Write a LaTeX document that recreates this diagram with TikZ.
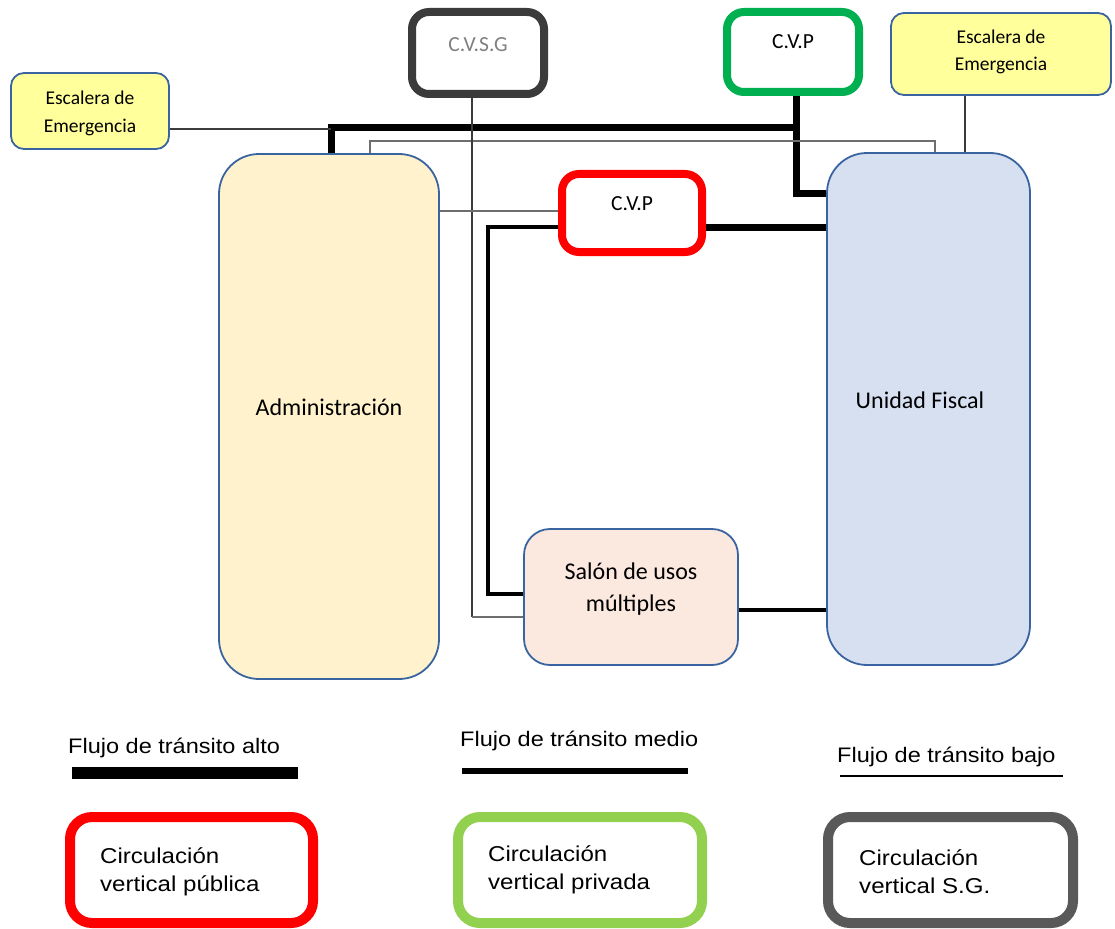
\documentclass[tikz,border=0pt]{standalone}
\usepackage{fontspec}
\setmainfont{Carlito}
\newfontfamily\legendfont{Liberation Sans}
\definecolor{roomblue}{HTML}{3A64A0}
\definecolor{adminfill}{HTML}{FFF2CC}
\definecolor{fiscalfill}{HTML}{D6E0F1}
\definecolor{salonfill}{HTML}{FBE9E0}
\definecolor{stairfill}{HTML}{FFFF9C}
\definecolor{sgdark}{HTML}{3B3B3B}
\definecolor{sgtext}{HTML}{808080}
\definecolor{privgreen}{HTML}{00B050}
\definecolor{pubred}{HTML}{FF0000}
\definecolor{leggreen}{HTML}{92D050}
\definecolor{leggray}{HTML}{595959}
\definecolor{thingray}{HTML}{6E6E6E}
\begin{document}
\begin{tikzpicture}[x=1pt,y=-1pt,
  room/.style={draw=roomblue, line width=1.8pt, rounded corners=40pt, inner sep=0pt},
  stair/.style={draw=roomblue, line width=1.8pt, fill=stairfill, rounded corners=13pt, inner sep=0pt},
  core/.style={line width=8pt, fill=white, rounded corners=17pt, inner sep=0pt},
  legbox/.style={line width=10pt, fill=white, rounded corners=22pt, inner sep=0pt},
  lbl/.style={inner sep=0pt, align=center},
  legtxt/.style={inner sep=0pt, anchor=west, align=left, font=\legendfont\fontsize{21.5}{28}\selectfont},
  legtitle/.style={inner sep=0pt, anchor=west, font=\legendfont\fontsize{21}{25}\selectfont},
  hiflow/.style={line width=7pt},
  midflow/.style={line width=3.5pt},
  loflow/.style={line width=1.2pt}]
\useasboundingbox (0,0) rectangle (1115,928);

% rooms
\node[room, fill=adminfill, minimum width=220, minimum height=525] (admin) at (329,416.5) {};
\node[lbl, font=\fontsize{24}{29}\selectfont] (adminT) at (329,407) {Administración};
\node[room, fill=fiscalfill, minimum width=203, minimum height=512] (fiscal) at (928.5,409) {};
\node[lbl, font=\fontsize{24}{29}\selectfont] (fiscalT) at (920,400) {Unidad Fiscal};
\node[room, fill=salonfill, rounded corners=26pt, minimum width=214, minimum height=136] (salon) at (631,597) {};
\node[lbl, font=\fontsize{24}{32}\selectfont] (salonT) at (631,589) {Salón de usos\\múltiples};

% emergency stairs
\node[stair, minimum width=158, minimum height=76] (escL) at (90,111) {};
\node[lbl, font=\fontsize{19.5}{28}\selectfont] (escLT) at (90,113) {Escalera de\\Emergencia};
\node[stair, minimum width=220, minimum height=82] (escR) at (1001,54) {};
\node[lbl, font=\fontsize{19.5}{27}\selectfont] (escRT) at (1001,51.5) {Escalera de\\Emergencia};

% vertical circulation cores
\node[core, draw=sgdark, minimum width=132, minimum height=82] (cvsg) at (478,53) {};
\node[lbl, text=sgtext, font=\fontsize{21.5}{26}\selectfont] (cvsgT) at (478,45) {C.V.S.G};
\node[core, draw=privgreen, minimum width=132, minimum height=80] (cvpg) at (793,52) {};
\node[lbl, font=\fontsize{21.5}{26}\selectfont] (cvpgT) at (793,42) {C.V.P};
\node[core, draw=pubred, minimum width=140, minimum height=78] (cvpr) at (632,213) {};
\node[lbl, font=\fontsize{21.5}{26}\selectfont] (cvprT) at (632,204) {C.V.P};

% high traffic flow
\coordinate (hiL) at (331,128);
\coordinate (hiR) at (796,128);
\coordinate (hiD) at (796,193);
\coordinate (hiM) at (706,227);
\draw[hiflow] (admin.north -| hiL) -- (hiL) -- (hiR);
\draw[hiflow] (cvpg.south -| hiR) -- (hiD) -- (hiD -| fiscal.west);
\draw[hiflow] (cvpr.east |- hiM) -- (hiM -| fiscal.west);

% medium traffic flow
\coordinate (mdA) at (488,227);
\coordinate (mdB) at (488,594);
\coordinate (mdC) at (739,610);
\draw[midflow] (cvpr.west |- mdA) -- (mdA) -- (mdB) -- (mdB -| salon.west);
\draw[midflow] (salon.east |- mdC) -- (mdC -| fiscal.west);

% low traffic flow
\coordinate (loA) at (331,129);
\coordinate (gA) at (370,141);
\coordinate (gB) at (935,141);
\coordinate (eR) at (965,100);
\coordinate (sgA) at (472,617);
\coordinate (sgB) at (440,211);
\draw[loflow, sgdark] (escL.east |- loA) -- (loA);
\draw[loflow, thingray] (admin.north -| gA) -- (gA) -- (gB) -- (gB |- fiscal.north);
\draw[loflow, sgdark] (escR.south -| eR) -- (eR |- fiscal.north);
\draw[loflow, sgdark] (cvsg.south -| sgA) -- (sgA);
\draw[loflow, thingray] (sgA) -- (sgA -| salon.west);
\draw[loflow, thingray] (admin.east |- sgB) -- (sgB -| cvpr.west);

% legend: flow widths
\node[legtitle] (legHi) at (68,748) {\scalebox{1.12}[1]{Flujo de tránsito alto}};
\node[legtitle] (legMd) at (460,741) {\scalebox{1.12}[1]{Flujo de tránsito medio}};
\node[legtitle] (legLo) at (837,757) {\scalebox{1.12}[1]{Flujo de tránsito bajo}};
\coordinate (barHiA) at (72,773);  \coordinate (barHiB) at (298,773);
\coordinate (barMdA) at (462,771); \coordinate (barMdB) at (688,771);
\coordinate (barLoA) at (840,776); \coordinate (barLoB) at (1063,776);
\draw[line width=12pt] (barHiA) -- (barHiB);
\draw[line width=5.5pt] (barMdA) -- (barMdB);
\draw[line width=2pt] (barLoA) -- (barLoB);

% legend: circulation cores
\node[legbox, draw=pubred, minimum width=243, minimum height=106] (legPub) at (191.5,870) {};
\node[legtxt] (legPubT) at (100,872) {\scalebox{1.12}[1]{Circulación}\\\scalebox{1.12}[1]{vertical pública}};
\node[legbox, draw=leggreen, minimum width=244, minimum height=106] (legPriv) at (580,870) {};
\node[legtxt] (legPrivT) at (488,870) {\scalebox{1.12}[1]{Circulación}\\\scalebox{1.12}[1]{vertical privada}};
\node[legbox, draw=leggray, minimum width=245, minimum height=106] (legSG) at (950.5,870) {};
\node[legtxt] (legSGT) at (859,872) {\scalebox{1.12}[1]{Circulación}\\\scalebox{1.12}[1]{vertical S.G.}};
\end{tikzpicture}
\end{document}
